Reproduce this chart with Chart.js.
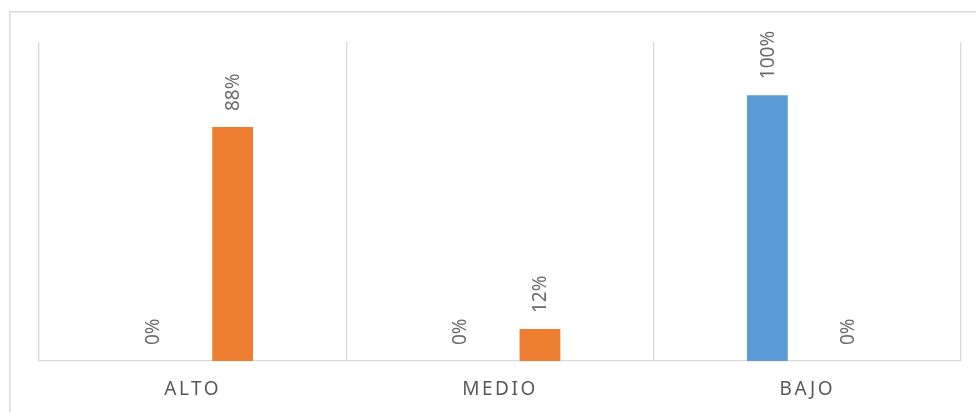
<!DOCTYPE html>
<html>
<head>
<meta charset="utf-8">
<script src="https://cdn.jsdelivr.net/npm/chart.js@4"></script>
<style>
  html, body { margin: 0; padding: 0; background: #fff; overflow: hidden; }
  #chart { display: block; }
</style>
</head>
<body>
<canvas id="chart" width="976" height="412"></canvas>
<script>
// Data
const categories = ['ALTO', 'MEDIO', 'BAJO'];
const serieAzul = [0, 0, 100];
const serieNaranja = [88, 12, 0];

const BLUE = '#5b9bd5';
const ORANGE = '#ed7d31';
const TEXT = '#595959';
const LABEL = '#6a6a6a';
const GRID = '#d9d9d9';

// Chart frame, only left and top edges are inside the picture
const frame = {
    id: 'frame',
    beforeDraw(chart) {
        const ctx = chart.ctx;
        ctx.save();
        ctx.strokeStyle = GRID;
        ctx.lineWidth = 1.5;
        ctx.beginPath();
        ctx.moveTo(9.75, chart.height);
        ctx.lineTo(9.75, 11.75);
        ctx.lineTo(chart.width, 11.75);
        ctx.stroke();
        ctx.restore();
    }
};

// Vertical value labels above each bar
const barLabels = {
    id: 'barLabels',
    afterDatasetsDraw(chart) {
        const ctx = chart.ctx;
        ctx.save();
        ctx.font = '19px "Noto Sans"';
        ctx.fillStyle = LABEL;
        ctx.textAlign = 'left';
        ctx.textBaseline = 'middle';
        chart.data.datasets.forEach((ds, i) => {
            chart.getDatasetMeta(i).data.forEach((bar, j) => {
                ctx.save();
                ctx.translate(bar.x + 1, bar.y - 16);
                ctx.rotate(-Math.PI / 2);
                ctx.fillText(ds.data[j] + '%', 0, 0);
                ctx.restore();
            });
        });
        ctx.restore();
    }
};

// Spaced-out category labels
const spacedTicks = {
    id: 'spacedTicks',
    beforeDraw(chart) { chart.ctx.letterSpacing = '2.5px'; },
    beforeDatasetsDraw(chart) { chart.ctx.letterSpacing = '0px'; }
};

new Chart(document.getElementById('chart'), {
    type: 'bar',
    data: {
        labels: categories,
        datasets: [
            { label: 'Serie 1', data: serieAzul, backgroundColor: BLUE },
            { label: 'Serie 2', data: serieNaranja, backgroundColor: ORANGE }
        ]
    },
    options: {
        responsive: false,
        animation: false,
        devicePixelRatio: 1,
        barPercentage: 0.51,
        categoryPercentage: 0.52,
        layout: { padding: { left: 39, top: 42, right: 15, bottom: 0 } },
        plugins: {
            legend: { display: false },
            tooltip: { enabled: false }
        },
        scales: {
            x: {
                grid: { color: GRID, lineWidth: 1.3, drawTicks: false },
                border: { color: GRID, width: 1.3 },
                ticks: { color: TEXT, font: { family: 'Noto Sans', size: 19 }, padding: 17 },
                afterFit(scale) { scale.height = 51; }
            },
            y: { display: false, min: 0, max: 120 }
        }
    },
    plugins: [frame, barLabels, spacedTicks]
});
</script>
</body>
</html>
